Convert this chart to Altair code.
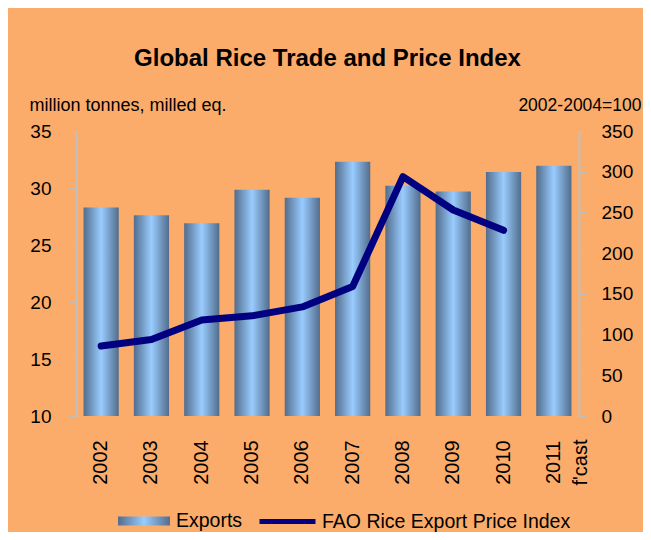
import altair as alt
import pandas as pd

# ---- data ----
years = ["2002", "2003", "2004", "2005", "2006", "2007", "2008", "2009", "2010", "2011"]
exports = [28.3, 27.6, 26.9, 29.85, 29.15, 32.3, 30.2, 29.7, 31.4, 31.95]
price_years = ["2002", "2003", "2004", "2005", "2006", "2007", "2008", "2009", "2010"]
price_index = [86, 94, 118, 123, 134, 159, 294, 253, 228]
left_ticks = [10, 15, 20, 25, 30, 35]
right_ticks = [0, 50, 100, 150, 200, 250, 300, 350]

bars_df = pd.DataFrame({"year": years, "exports": exports, "series": "Exports"})
line_df = pd.DataFrame({"year": price_years, "index": price_index,
                        "series": "FAO Rice Export Price Index"})

FONT = "Liberation Sans"
ORANGE = "#fbac6a"
NAVY = "#000080"
AXIS_GREY = "#c0c0c0"

bar_gradient = {
    "gradient": "linear", "x1": 0, "x2": 1, "y1": 0, "y2": 0,
    "stops": [
        {"offset": 0, "color": "#526c8c"},
        {"offset": 0.5, "color": "#99ccff"},
        {"offset": 1, "color": "#526c8c"},
    ],
}

x_enc = alt.X(
    "year:N",
    sort=years,
    scale=alt.Scale(domain=years, paddingInner=0.3, paddingOuter=0.15),
    axis=alt.Axis(
        title=None, labelAngle=270, labelAlign="center", labelBaseline="middle",
        labelPadding=46, ticks=False, tickSize=0, domain=False,
        labelFont=FONT, labelFontSize=20, labelColor="black",
        labelLineHeight=27, labelOverlap=False,
        labelExpr='datum.value == "2011" ? ["2011", "f\'cast"] : datum.value',
    ),
)

bars = alt.Chart(bars_df).mark_bar(fill=bar_gradient).encode(
    x=x_enc,
    y=alt.Y(
        "exports:Q",
        scale=alt.Scale(domain=[10, 35], zero=False, nice=False),
        axis=alt.Axis(
            values=left_ticks, grid=False, title="million tonnes, milled eq.",
            titleAngle=0, titleAlign="left", titleBaseline="middle",
            titleX=-47, titleY=-26, titleFont=FONT, titleFontSize=18,
            titleFontWeight="normal", titleColor="black",
            labelFont=FONT, labelFontSize=19, labelColor="black", labelPadding=18,
            tickSize=7, tickColor=AXIS_GREY, domainColor=AXIS_GREY, domainWidth=2,
        ),
    ),
    y2=alt.datum(10),
)

# legend entry for the bars (no marks drawn: every row is filtered out)
bar_key = alt.Chart(bars_df).transform_filter("false").mark_point(
    filled=True, fill=bar_gradient, opacity=1, strokeWidth=0
).encode(
    shape=alt.Shape(
        "series:N",
        scale=alt.Scale(domain=["Exports"], range=["M-1,-0.173H1V0.173H-1Z"]),
        legend=alt.Legend(
            orient="none", legendX=42, legendY=364, title=None, padding=0,
            symbolSize=2704, symbolStrokeWidth=0, symbolOpacity=1,
            labelFont=FONT, labelFontSize=19.5, labelColor="black", labelOffset=6,
            labelLimit=400,
        ),
    ),
)

line = alt.Chart(line_df).mark_line(
    strokeWidth=7, strokeCap="round", strokeJoin="round"
).encode(
    x=alt.X("year:N", sort=years),
    y=alt.Y(
        "index:Q",
        scale=alt.Scale(domain=[0, 350], nice=False),
        axis=alt.Axis(
            orient="right", values=right_ticks, grid=False, title="2002-2004=100",
            titleAngle=0, titleAlign="right", titleBaseline="middle",
            titleX=62, titleY=-26, titleFont=FONT, titleFontSize=17.5,
            titleFontWeight="normal", titleColor="black",
            labelFont=FONT, labelFontSize=19, labelColor="black", labelPadding=15,
            tickSize=7, tickColor=AXIS_GREY, domainColor=AXIS_GREY, domainWidth=2,
        ),
    ),
    color=alt.Color(
        "series:N",
        scale=alt.Scale(domain=["FAO Rice Export Price Index"], range=[NAVY]),
        legend=alt.Legend(
            orient="none", legendX=181, legendY=360, title=None, padding=0,
            symbolType="stroke", symbolSize=3136, symbolStrokeWidth=5,
            labelFont=FONT, labelFontSize=19.5, labelColor="black", labelOffset=4,
            labelLimit=400,
        ),
    ),
)

chart = alt.layer(bars, line, bar_key).resolve_scale(
    y="independent", color="independent"
).properties(
    width=503,
    height=285,
    background=ORANGE,
    autosize=alt.AutoSizeParams(type="none"),
    padding={"left": 68, "top": 123, "right": 64, "bottom": 116},
    title=alt.TitleParams(
        text="Global Rice Trade and Price Index", font=FONT, fontSize=24,
        fontWeight="bold", color="black", anchor="middle", baseline="alphabetic",
        offset=6,
    ),
).configure_view(
    fill="white", stroke=None
)

chart.save("out.html", embed_options={"renderer": "svg", "actions": False})
